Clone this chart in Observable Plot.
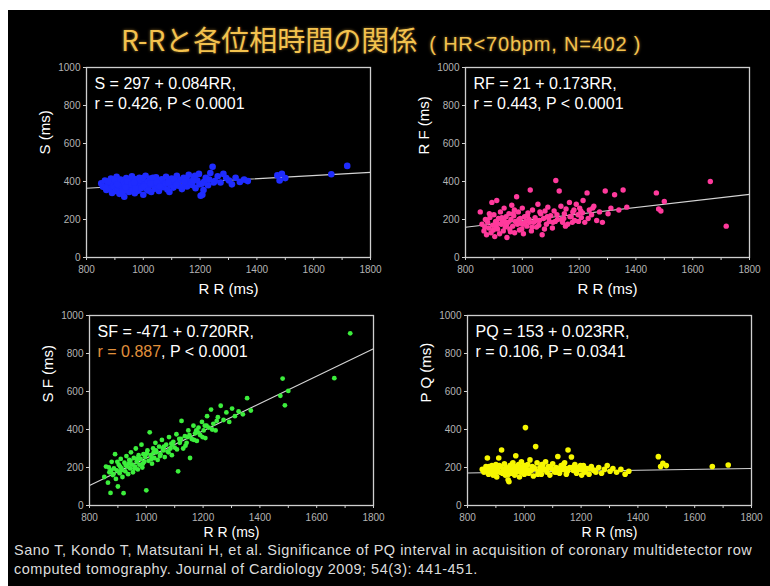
<!DOCTYPE html>
<html>
<head>
<meta charset="utf-8">
<script src="https://cdn.jsdelivr.net/npm/d3@7"></script>
<script src="https://cdn.jsdelivr.net/npm/@observablehq/plot@0.6"></script>
<style>
  html, body { margin: 0; padding: 0; background: #fff; }
  #page { position: relative; width: 770px; height: 586px; overflow: hidden; background: #fff; }
  #bg { position: absolute; left: 8px; top: 10px; width: 762px; height: 576px; background: #000; }
  .panel { position: absolute; }
  #title { position: absolute; left: 121px; top: 19px; white-space: nowrap; color: #f3c24e;
           text-shadow: 0 0 3px rgba(255,190,70,0.55); }
  #title .main { font-family: "Noto Sans CJK JP", "Liberation Sans", sans-serif; font-size: 28px; }
  #title .sub { font-family: "Liberation Sans", Arial, sans-serif; font-size: 20px; margin-left: 12px; letter-spacing: 0.8px; }
  #caption { position: absolute; left: 8px; top: 541px; width: 762px; height: 45px; background: #000; color: #dcdcdc;
             font-family: "Liberation Sans", Arial, sans-serif; font-size: 14.5px; line-height: 19px;
             letter-spacing: 0.5px; padding-left: 6px; box-sizing: border-box; white-space: nowrap; }
</style>
</head>
<body>
<div id="page">
  <div id="bg"></div>
  <div id="title"><span class="main">R-Rと各位相時間の関係</span><span class="sub">( HR&lt;70bpm, N=402 )</span></div>
  <div id="panels"></div>
  <div id="caption">Sano T, Kondo T, Matsutani H, et al. Significance of PQ interval in acquisition of coronary multidetector row<br>computed tomography. Journal of Cardiology 2009; 54(3): 441-451.</div>
</div>
<script>
// R-R interval of each subject (ms), shared by the four panels
const rr = [
  852, 858, 865, 870, 874, 878, 882, 886, 890, 893,
  896, 900, 903, 906, 910, 913, 916, 920, 923, 926,
  930, 933, 936, 940, 943, 946, 950, 953, 956, 960,
  963, 966, 970, 973, 976, 980, 983, 986, 990, 993,
  996, 1000, 1004, 1008, 1012, 1016, 1020, 1024, 1028, 1032,
  1036, 1040, 1045, 1050, 1055, 1060, 1065, 1070, 1075, 1080,
  1085, 1090, 1095, 1100, 1106, 1112, 1118, 1124, 1130, 1136,
  1142, 1148, 1154, 1160, 1166, 1172, 1178, 1184, 1190, 1196,
  1202, 1208, 1214, 1220, 1228, 1236, 1244, 1252, 1262, 1272,
  1282, 1292, 1302, 1312, 1325, 1340, 1355, 1368, 1472, 1480,
  1488, 1500, 1662, 1718,
  868, 884, 898, 912, 928, 944, 958, 972, 988, 1002,
  1018, 1034, 1048, 1062, 1078, 1092, 1108, 1122, 1138, 1152,
  1168, 1182, 1198, 1212, 1232, 1248,
  876, 908, 938, 968, 998, 1026, 1058, 1088, 1116, 1146, 1176, 1206
];
// S (ms)
const sValues = [
  390, 372, 405, 355, 380, 398, 362, 415, 340, 388,
  372, 402, 350, 425, 366, 392, 335, 410, 378, 355,
  398, 320, 384, 418, 362, 395, 345, 406, 372, 428,
  358, 390, 338, 412, 376, 400, 352, 420, 384, 366,
  405, 330, 392, 430, 360, 398, 376, 415, 345, 388,
  405, 362, 422, 380, 350, 398, 412, 370, 390, 425,
  358, 402, 384, 415, 368, 396, 430, 378, 408, 360,
  420, 392, 374, 435, 400, 382, 418, 365, 405, 440,
  325, 330, 398, 420, 380, 445, 478, 402, 428, 395,
  440, 418, 405, 385, 420, 398, 410, 402, 432, 405,
  440, 418, 438, 482,
  365, 395, 410, 380, 345, 400, 385, 365, 408, 375,
  352, 420, 395, 372, 388, 345, 410, 390, 372, 412,
  395, 430, 385, 355, 410, 395,
  400, 385, 370, 395, 418, 390, 375, 395, 382, 398, 405, 388
];
// RF (ms)
const rfValues = [
  240, 175, 140, 200, 120, 185, 155, 210, 130, 290,
  170, 225, 110, 190, 300, 150, 205, 125, 240, 175,
  195, 140, 260, 160, 215, 105, 185, 230, 150, 200,
  275, 165, 220, 130, 190, 320, 175, 240, 145, 205,
  180, 260, 125, 215, 190, 165, 235, 200, 355, 140,
  250, 185, 210, 160, 280, 195, 230, 120, 205, 245,
  175, 265, 190, 220, 155, 245, 405, 200, 350, 270,
  185, 230, 255, 175, 290, 215, 240, 195, 280, 225,
  260, 210, 300, 185, 340, 250, 225, 270, 195, 240,
  185, 350, 230, 260, 330, 250, 355, 265, 340, 255,
  245, 295, 400, 165,
  160, 230, 145, 180, 210, 170, 135, 250, 200, 175,
  220, 160, 195, 240, 150, 210, 185, 225, 200, 165,
  215, 250, 190, 235, 205, 260,
  195, 165, 190, 230, 150, 185, 170, 215, 190, 205, 185, 245
];
// SF (ms)
const sfValues = [
  150, 205, 120, 175, 66, 230, 160, 195, 270, 140,
  185, 100, 215, 170, 245, 195, 150, 65, 225, 180,
  260, 205, 165, 240, 195, 280, 215, 175, 250, 205,
  300, 230, 190, 265, 215, 245, 320, 200, 270, 230,
  255, 80, 290, 235, 385, 265, 220, 300, 250, 330,
  280, 240, 310, 270, 345, 290, 255, 320, 285, 360,
  300, 265, 335, 305, 375, 180, 330, 445, 300, 365,
  330, 395, 250, 350, 420, 380, 340, 410, 370, 440,
  395, 355, 470, 410, 505, 430, 395, 465, 525, 450,
  490, 440, 510, 470, 495, 480, 565, 500, 577, 668,
  527, 603, 670, 906,
  200, 165, 230, 185, 210, 235, 195, 250, 220, 275,
  245, 290, 260, 310, 280, 320, 295, 350, 315, 370,
  345, 385, 360, 420, 400, 445,
  185, 205, 220, 245, 270, 280, 300, 325, 350, 360, 395, 420
];
// PQ (ms)
const pqValues = [
  190, 175, 205, 250, 165, 195, 180, 210, 160, 200,
  185, 215, 150, 195, 250, 175, 205, 292, 170, 190,
  220, 160, 200, 180, 135, 125, 210, 185, 170, 225,
  195, 160, 262, 205, 180, 215, 150, 195, 230, 175,
  200, 165, 410, 190, 215, 170, 240, 185, 205, 155,
  195, 310, 225, 180, 200, 165, 215, 190, 230, 175,
  205, 160, 195, 220, 180, 200, 258, 170, 210, 190,
  225, 165, 292, 200, 255, 185, 215, 170, 200, 190,
  160, 210, 180, 195, 165, 205, 185, 175, 200, 170,
  190, 210, 180, 195, 175, 190, 165, 180, 257, 205,
  222, 210, 205, 213,
  185, 200, 170, 210, 190, 165, 220, 195, 175, 210,
  185, 200, 165, 215, 190, 205, 175, 195, 215, 180,
  200, 185, 210, 175, 195, 185,
  205, 180, 195, 170, 210, 190, 185, 200, 175, 195, 205, 190
];
// regression results printed in each panel
const eqNames = ["S", "RF", "SF", "PQ"];
const intercepts = [297, 21, -471, 153];
const slopes = [0.084, 0.173, 0.720, 0.023];
const rTexts = ["0.426", "0.443", "0.887", "0.106"];
const pTexts = ["P < 0.0001", "P < 0.0001", "P < 0.0001", "P = 0.0341"];
const yLabels = ["S (ms)", "R F (ms)", "S F (ms)", "P Q (ms)"];
const xLabel = "R R (ms)";
const xTicks = [800, 1000, 1200, 1400, 1600, 1800];
const xMinorTicks = [900, 1100, 1300, 1500, 1700];
const yTicks = [0, 200, 400, 600, 800, 1000];

const series = [sValues, rfValues, sfValues, pqValues];
const colors = ["#1f2cff", "#ff3a9c", "#3cee3c", "#f7f700"];
const dotR = [3.3, 2.7, 2.4, 2.8];
const highlightR = [false, false, true, false];
const frames = [[86, 67], [465, 67], [89, 315], [467, 315]];
const xLabelDy = [32, 32, 27, 27];
const FONT = '"Liberation Sans", Arial, sans-serif';
const mL = 56, mT = 10, mR = 12, mB = 46, innerW = 284, innerH = 190;

const ctx = document.createElement("canvas").getContext("2d");
ctx.font = `16px ${FONT}`;

const host = document.getElementById("panels");
series.forEach((vals, i) => {
  const data = rr.map((x, j) => ({x, y: vals[j]}));
  const fit = [800, 1800].map(x => ({x, y: intercepts[i] + slopes[i] * x}));
  const eq = `${eqNames[i]} = ${intercepts[i]} + ${slopes[i].toFixed(3)}RR,`;
  const rPart = `r = ${rTexts[i]}`;
  const rest = `, ${pTexts[i]}`;
  const rW = ctx.measureText(rPart).width;
  const txt = {frameAnchor: "top-left", textAnchor: "start", lineAnchor: "middle", fontSize: 16, fontFamily: FONT};
  const chart = Plot.plot({
    width: mL + innerW + mR,
    height: mT + innerH + mB,
    marginLeft: mL, marginTop: mT, marginRight: mR, marginBottom: mB,
    x: {domain: [800, 1800]},
    y: {domain: [0, 1000]},
    style: {background: "transparent", color: "#fff", fontFamily: FONT, overflow: "visible"},
    marks: [
      Plot.line(fit, {x: "x", y: "y", stroke: "#d4d4d4", strokeWidth: 1.1}),
      Plot.dot(data, {x: "x", y: "y", r: dotR[i], fill: colors[i]}),
      Plot.frame({stroke: "#cfcfcf", strokeWidth: 1.3}),
      Plot.axisY({ticks: yTicks, tickFormat: d => String(d), tickSize: 3, tickPadding: 3, fontSize: 10, fill: "#b4b4b4", stroke: "#cfcfcf", label: null}),
      Plot.axisX({ticks: xTicks, tickFormat: d => String(d), tickSize: 3, tickPadding: 5, fontSize: 10, fill: "#b4b4b4", stroke: "#cfcfcf", label: null}),
      Plot.axisX({ticks: xMinorTicks, tickSize: 3, tickFormat: () => "", stroke: "#cfcfcf", label: null}),
      Plot.text([eq], {...txt, dx: 8, dy: 16, fill: "#ffffff"}),
      Plot.text([rPart], {...txt, dx: 8, dy: 36, fill: highlightR[i] ? "#e0913c" : "#ffffff"}),
      Plot.text([rest], {...txt, dx: 8 + rW, dy: 36, fill: "#ffffff"}),
      Plot.text([yLabels[i]], {frameAnchor: "left", rotate: -90, dx: -41, dy: -8, fontSize: 15, fontFamily: FONT, fill: "#ffffff"}),
      Plot.text([xLabel], {frameAnchor: "bottom", lineAnchor: "middle", dy: xLabelDy[i], fontSize: i >= 2 ? 14 : 15, fontFamily: FONT, fill: "#ffffff"})
    ]
  });
  const wrap = document.createElement("div");
  wrap.className = "panel";
  wrap.style.left = (frames[i][0] - mL) + "px";
  wrap.style.top = (frames[i][1] - mT) + "px";
  wrap.appendChild(chart);
  host.appendChild(wrap);
});
</script>
</body>
</html>
